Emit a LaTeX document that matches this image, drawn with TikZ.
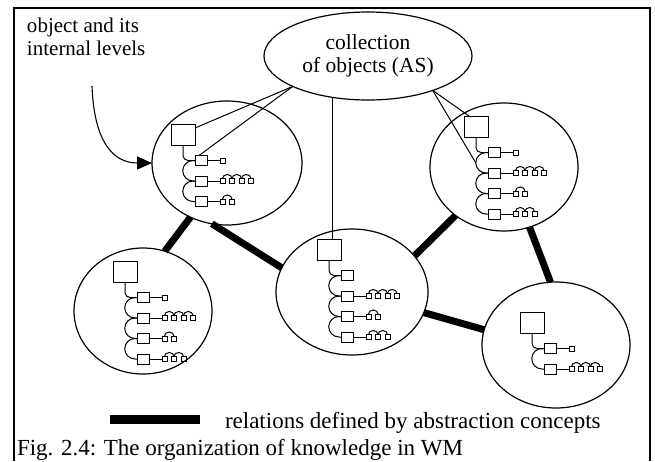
\documentclass[tikz,border=0pt]{standalone}
\usepackage{fontspec}
\setmainfont{Liberation Serif}
\usetikzlibrary{shapes.geometric,arrows.meta,calc}

% one object: main square, its sub-levels and their leaves
% #1 name, (#2,#3) top-left corner of the main square, #4 leaf counts per level
\newcommand\objtree[4]{%
  \node[bigsq] (#1) at (#2+12,#3+10.5) {};
  \foreach \n [count=\i] in {#4} {
    \node[subsq] (#1-\i) at (#2+30,{#3+36.5+(\i-1)*20.5}) {};
  }
  \draw[tree, rounded corners=5pt] (#1.south) |- (#1-1.west);
  \foreach \n [count=\i, remember=\i as \p (initially 0)] in {#4} {
    \ifnum\i>1
      \draw[tree] (#1-\p.west) -- ++(-2,0) arc[start angle=270,end angle=90,radius=10.25] -- (#1-\i.west);
    \fi
    \ifnum\n>0
      \draw[tree] (#1-\i.east) -- ++(13,0);
      \foreach \k in {1,...,\n} {
        \node[leaf] (#1-\i-\k) at ([xshift={15.5+(\k-1)*9.5}]#1-\i.east) {};
      }
      \ifnum\n>1
        \foreach \k [remember=\k as \q (initially 1)] in {2,...,\n} {
          \draw[tree] (#1-\i-\q.north) arc[start angle=180,end angle=360,x radius=4.75,y radius=4];
        }
      \fi
    \fi
  }
}

\begin{document}
\begin{tikzpicture}[x=1pt,y=-1pt,
  font=\fontsize{21}{23}\selectfont,
  every node/.style={inner sep=0pt, outer sep=0pt},
  obj/.style 2 args={ellipse, draw, line width=1.2pt, minimum width=#1, minimum height=#2},
  bigsq/.style={draw, line width=1pt, minimum width=24pt, minimum height=21pt},
  subsq/.style={draw, line width=0.9pt, minimum width=12pt, minimum height=10pt},
  leaf/.style={draw, line width=0.8pt, minimum width=5pt, minimum height=5pt},
  tree/.style={line width=1pt},
  thin link/.style={line width=1pt},
  relation/.style={line width=7pt}]

\useasboundingbox (0,0) rectangle (655,461);

% frame, open at the bottom
\draw[line width=1.3pt] (14,461) -- (14,8) -- (650,8) -- (650,461);

% collection of objects
\node[obj={208pt}{88pt}, align=center, font=\fontsize{21.5}{23}\selectfont] (T) at (368,56) {collection\\of objects (AS)};

% objects
\node[obj={150pt}{124pt}] (A) at (227,163) {};
\node[obj={148pt}{128pt}] (B) at (504,167) {};
\node[obj={138pt}{126pt}] (C) at (143,311) {};
\node[obj={152pt}{126pt}] (D) at (352,292) {};
\node[obj={148pt}{126pt}] (E) at (556,345) {};

% internal levels of each object
\objtree{ta}{171}{124}{1,4,2}
\objtree{tb}{464}{116}{1,4,2,3}
\objtree{tc}{113}{261}{1,4,2,3}
\objtree{td}{317}{239}{0,4,2,3}
\objtree{te}{520}{312}{1,4}

% membership in the collection
\draw[thin link] (T.202) -- ([yshift=-4pt]ta.north east);
\draw[thin link] (T.202) -- ([xshift=4pt]ta-1.north west);
\draw[thin link] (T.229.5) -- (T.229.5 |- td.north);
\coordinate (tbbend) at ($(tb-1.west)!0.5!(tb-2.west)+(-12.25,0)$);
\draw[thin link] (T.332) -- ([xshift=5pt]tb.north west);
\draw[thin link] (T.332) -- (tbbend);

% relations defined by abstraction concepts
\draw[relation] (A.236) -- (C.70);
\draw[relation] (A.256) -- (D.161);
\draw[relation] (D.30) -- (B.225);
\draw[relation] (B.293) -- (E.95);
\draw[relation] (D.344) -- (E.168);

% annotation
\node[anchor=north west, align=left] (note) at (27,18) {object and its\\internal levels};
\coordinate (arrowstart) at (92,86);
\draw[line width=1.1pt, -{Triangle[length=15pt,width=13pt]}]
  (arrowstart) .. controls (94,140) and (112,163) .. (A.west);

% legend
\node[fill=black, minimum width=90pt, minimum height=9pt] (bar) at (155,419) {};
\node[anchor=base west, font=\fontsize{23}{26}\selectfont] (legend) at (225,428) {relations defined by abstraction concepts};

% caption
\node[anchor=base west, font=\fontsize{23}{26}\selectfont] (caption) at (17,455) {Fig. 2.4: The organization of knowledge in WM};
\end{tikzpicture}
\end{document}
